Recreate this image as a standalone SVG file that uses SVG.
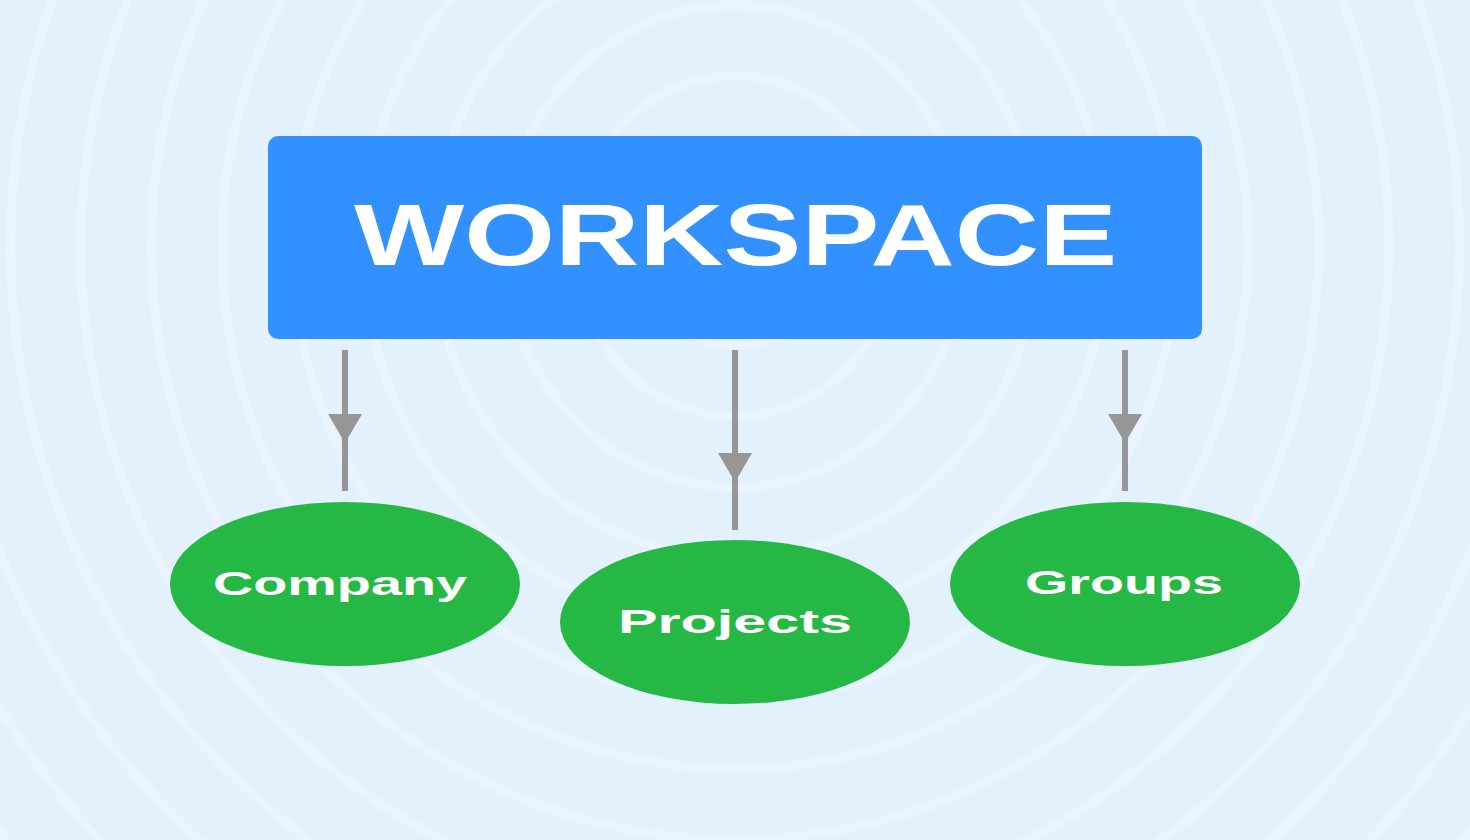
<svg xmlns="http://www.w3.org/2000/svg" width="1470" height="840" viewBox="0 0 1470 840">
  <defs>
    <style>
      .ring { fill: none; stroke: #e9f4fe; stroke-width: 9; }
      .edge { fill: none; stroke: #969696; stroke-width: 6; marker-mid: url(#head); }
      .leaf { fill: #25b845; }
      .leaf-label { font-family: "Liberation Sans", Arial, sans-serif; font-weight: 700; font-size: 34px; fill: #ffffff; text-anchor: middle; }
      .root-label { font-family: "Liberation Sans", Arial, sans-serif; font-weight: 700; font-size: 88px; fill: #ffffff; text-anchor: middle; }
    </style>
    <marker id="head" viewBox="0 0 29 34" refX="29" refY="17" markerWidth="29" markerHeight="34" markerUnits="userSpaceOnUse" orient="auto">
      <path d="M0,0 L29,17 L0,34 Z" fill="#969696"/>
    </marker>
  </defs>

  <rect x="0" y="0" width="1470" height="840" fill="#e3f1fd"/>

  <g id="background-rings">
    <ellipse class="ring" cx="735" cy="246" rx="90" ry="100"/>
    <ellipse class="ring" cx="735" cy="246" rx="160.5" ry="170.5"/>
    <ellipse class="ring" cx="735" cy="246" rx="231" ry="241"/>
    <ellipse class="ring" cx="735" cy="246" rx="301.5" ry="311.5"/>
    <ellipse class="ring" cx="735" cy="246" rx="372" ry="382"/>
    <ellipse class="ring" cx="735" cy="246" rx="442.5" ry="452.5"/>
    <ellipse class="ring" cx="735" cy="246" rx="513" ry="523"/>
    <ellipse class="ring" cx="735" cy="246" rx="583.5" ry="593.5"/>
    <ellipse class="ring" cx="735" cy="246" rx="654" ry="664"/>
    <ellipse class="ring" cx="735" cy="246" rx="724.5" ry="734.5"/>
    <ellipse class="ring" cx="735" cy="246" rx="795" ry="805"/>
    <ellipse class="ring" cx="735" cy="246" rx="865.5" ry="875.5"/>
    <ellipse class="ring" cx="735" cy="246" rx="936" ry="946"/>
  </g>

  <g id="connectors">
    <path class="edge" d="M345,350 L345,443 L345,491"/>
    <path class="edge" d="M735,350 L735,482 L735,530"/>
    <path class="edge" d="M1125,350 L1125,443 L1125,491"/>
  </g>

  <g id="workspace">
    <rect x="268" y="136" width="934" height="203" rx="10" ry="10" fill="#3390ff"/>
    <text class="root-label" x="735.5" y="265" textLength="763" lengthAdjust="spacingAndGlyphs">WORKSPACE</text>
  </g>

  <g id="company">
    <ellipse class="leaf" cx="345" cy="584" rx="175" ry="82"/>
    <text class="leaf-label" x="340" y="595" textLength="254" lengthAdjust="spacingAndGlyphs">Company</text>
  </g>

  <g id="projects">
    <ellipse class="leaf" cx="735" cy="622" rx="175" ry="82"/>
    <text class="leaf-label" x="735" y="633" textLength="234" lengthAdjust="spacingAndGlyphs">Projects</text>
  </g>

  <g id="groups">
    <ellipse class="leaf" cx="1125" cy="584" rx="175" ry="82"/>
    <text class="leaf-label" x="1124" y="594" textLength="198" lengthAdjust="spacingAndGlyphs">Groups</text>
  </g>
</svg>
